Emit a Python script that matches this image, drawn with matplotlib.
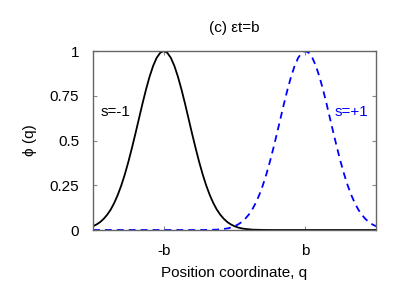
import matplotlib
matplotlib.use("Agg")
import matplotlib.pyplot as plt
import numpy as np

plt.rcParams['font.family'] = ['Liberation Sans', 'DejaVu Sans']

q = np.round(np.arange(-2.0, 2.0001, 0.05), 2)
phi_minus = [0.021, 0.031, 0.044, 0.062, 0.085, 0.114, 0.151, 0.196, 0.249, 0.311,
             0.381, 0.458, 0.539, 0.623, 0.707, 0.786, 0.857, 0.917, 0.962, 0.990,
             1.000, 0.990, 0.962, 0.917, 0.857, 0.786, 0.707, 0.623, 0.539, 0.458,
             0.381, 0.311, 0.249, 0.196, 0.151, 0.114, 0.085, 0.062, 0.044, 0.031,
             0.021, 0.014, 0.009, 0.006, 0.004, 0.002, 0.0015, 0.001, 0.0005, 0.0003,
             0.0002, 0, 0, 0, 0, 0, 0, 0, 0, 0,
             0, 0, 0, 0, 0, 0, 0, 0, 0, 0,
             0, 0, 0, 0, 0, 0, 0, 0, 0, 0, 0]
phi_plus = [0, 0, 0, 0, 0, 0, 0, 0, 0, 0,
            0, 0, 0, 0, 0, 0, 0, 0, 0, 0,
            0, 0, 0, 0, 0, 0, 0, 0, 0, 0,
            0.0002, 0.0003, 0.0005, 0.001, 0.0015, 0.002, 0.004, 0.006, 0.009, 0.014,
            0.021, 0.031, 0.044, 0.062, 0.085, 0.114, 0.151, 0.196, 0.249, 0.311,
            0.381, 0.458, 0.539, 0.623, 0.707, 0.786, 0.857, 0.917, 0.962, 0.990,
            1.000, 0.990, 0.962, 0.917, 0.857, 0.786, 0.707, 0.623, 0.539, 0.458,
            0.381, 0.311, 0.249, 0.196, 0.151, 0.114, 0.085, 0.062, 0.044, 0.031, 0.021]
xtick_pos = [-1, 1]
xtick_labels = ['-b', 'b']
ytick_pos = [0, 0.25, 0.5, 0.75, 1]
ytick_labels = ['0', '0.25', '0.5', '0.75', '1']

fig = plt.figure(figsize=(4.07, 2.85), dpi=100)
ax = fig.add_axes([93/407, 55/285, 283/407, 179/285])
ax.plot(q, phi_minus, color='black', lw=1.3)
ax.plot(q, phi_plus, color='#0000ff', lw=1.3, dashes=(3.8, 2.8))
ax.set_xlim(-2, 2)
ax.set_ylim(0, 1)
ax.set_xticks(xtick_pos)
ax.set_xticklabels(xtick_labels)
ax.set_yticks(ytick_pos)
ax.set_yticklabels(ytick_labels)
ax.tick_params(direction='in', length=3, color='#888888', labelsize=11, pad=10,
               top=True, right=True)
for s in ax.spines.values():
    s.set_color('#666666')
    s.set_linewidth(1.0)
ax.set_xlabel('Position coordinate, q', fontsize=11, labelpad=6)
ax.set_ylabel('ϕ (q)', fontsize=11, labelpad=9, family=['Liberation Sans', 'DejaVu Sans'])
ax.set_title('(c) εt=b', fontsize=11, pad=14)
ax.text(0.025, 0.635, 's=-1', transform=ax.transAxes, fontsize=11, color='black')
ax.text(0.855, 0.635, 's=+1', transform=ax.transAxes, fontsize=11, color='#0000ff')
fig.savefig('out.png', dpi=100)
